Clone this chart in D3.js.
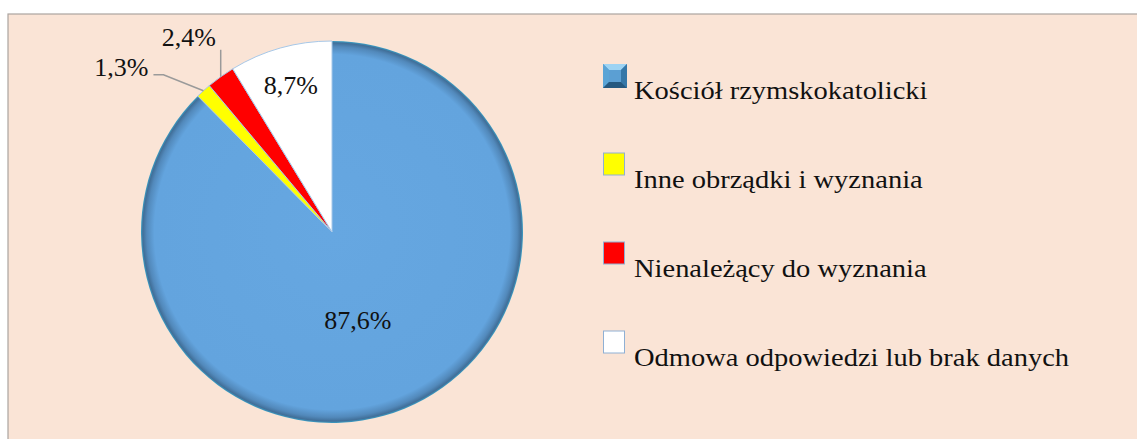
<!DOCTYPE html>
<html>
<head>
<meta charset="utf-8">
<script src="https://cdn.jsdelivr.net/npm/d3@7"></script>
<style>
  body { margin: 0; background: #fff; }
  svg { display: block; }
  text { font-family: "Liberation Serif", "Times New Roman", serif; fill: #111; }
</style>
</head>
<body>
<div id="chart"></div>
<script>
'use strict';

var categories = ["Kościół rzymskokatolicki", "Inne obrządki i wyznania", "Nienależący do wyznania", "Odmowa odpowiedzi lub brak danych"];
var values = [87.6, 1.3, 2.4, 8.7];
var valueLabels = ["87,6%", "1,3%", "2,4%", "8,7%"];
var colors = ["#64a6e0", "#ffff00", "#ff0000", "#ffffff"];

var width = 1137, height = 439;
var cx = 332, cy = 232, radius = 191;

var svg = d3.select("#chart").append("svg")
    .attr("width", width)
    .attr("height", height);

var defs = svg.append("defs");

// panel
svg.append("rect")
    .attr("x", 8).attr("y", 14)
    .attr("width", width + 10).attr("height", height + 10)
    .style("fill", "#fae4d6")
    .style("stroke", "#aba49f")
    .style("stroke-width", 1.2);

// bevel on the blue slice rim
var rim = defs.append("radialGradient")
    .attr("id", "rim")
    .attr("gradientUnits", "userSpaceOnUse")
    .attr("cx", 0).attr("cy", 0).attr("r", radius);
rim.append("stop").attr("offset", "0%").attr("stop-color", "#66a7e1");
rim.append("stop").attr("offset", "93%").attr("stop-color", "#63a4de");
rim.append("stop").attr("offset", "97%").attr("stop-color", "#5289bb");
rim.append("stop").attr("offset", "99%").attr("stop-color", "#416f99");
rim.append("stop").attr("offset", "100%").attr("stop-color", "#3a9fc6");

var pie = d3.pie().sort(null).value(function (d) { return d; });
var arcs = pie(values);
var arc = d3.arc().innerRadius(0).outerRadius(radius);

var g = svg.append("g").attr("transform", "translate(" + cx + "," + cy + ")");

g.selectAll("path")
    .data(arcs)
    .enter()
    .append("path")
    .attr("d", arc)
    .style("fill", function (d, i) { return i == 0 ? "url(#rim)" : colors[i]; })
    .style("stroke", function (d, i) { return i == 0 ? "none" : "#a7c8e8"; })
    .style("stroke-width", 1);

// inside labels: big slice and white slice
var inside = [
    {i: 0, r: 0.48, shift: 6},
    {i: 3, r: 0.80, shift: 0}
];
var toRad = Math.PI / 180;
inside.forEach(function (p) {
    var a = arcs[p.i];
    var ang = (a.startAngle + a.endAngle) / 2 + p.shift * toRad;
    var x = Math.sin(ang) * radius * p.r;
    var y = -Math.cos(ang) * radius * p.r;
    g.append("text")
        .attr("x", x).attr("y", y + 9)
        .style("font-size", "26px")
        .style("text-anchor", "middle")
        .text(valueLabels[p.i]);
});

// outside labels with leader lines
var edgePoint = function (a) {
    var ang = (a.startAngle + a.endAngle) / 2;
    return [Math.sin(ang) * radius, -Math.cos(ang) * radius];
};

var p1 = edgePoint(arcs[1]);
g.append("polyline")
    .attr("points", [p1, [p1[0] - 40, p1[1] - 16], [p1[0] - 50, p1[1] - 16]].join(" "))
    .style("fill", "none")
    .style("stroke", "#9a9a9a")
    .style("stroke-width", 1.5);
g.append("text")
    .attr("x", p1[0] - 55).attr("y", p1[1] - 16 + 1)
    .style("font-size", "26px")
    .style("text-anchor", "end")
    .text(valueLabels[1]);

var p2 = edgePoint(arcs[2]);
g.append("line")
    .attr("x1", p2[0]).attr("y1", p2[1])
    .attr("x2", p2[0]).attr("y2", p2[1] - 27)
    .style("stroke", "#9a9a9a")
    .style("stroke-width", 1.5);
g.append("text")
    .attr("x", p2[0] - 32).attr("y", p2[1] - 31)
    .style("font-size", "26px")
    .style("text-anchor", "middle")
    .text(valueLabels[2]);

// legend
var legendY = d3.scaleLinear().domain([0, 3]).range([99, 366]);
var legend = svg.selectAll("g.legend")
    .data(categories)
    .enter()
    .append("g")
    .attr("class", "legend")
    .attr("transform", function (d, i) { return "translate(603," + legendY(i) + ")"; });

legend.each(function (d, i) {
    var el = d3.select(this);
    if (i == 0) {
        var s = 24, t = -35, k = 6;
        el.append("rect").attr("x", 0).attr("y", t).attr("width", s).attr("height", s)
            .style("fill", "#4a8fc6");
        el.append("polygon").attr("points", [[0, t], [s, t], [s - k, t + k], [k, t + k]].join(" ")).style("fill", "#9dd3f3");
        el.append("polygon").attr("points", [[0, t], [k, t + k], [k, t + s - k], [0, t + s]].join(" ")).style("fill", "#5aa4d6");
        el.append("polygon").attr("points", [[s, t], [s, t + s], [s - k, t + s - k], [s - k, t + k]].join(" ")).style("fill", "#3577a8");
        el.append("polygon").attr("points", [[0, t + s], [k, t + s - k], [s - k, t + s - k], [s, t + s]].join(" ")).style("fill", "#25587f");
        el.append("rect").attr("x", k).attr("y", t + k).attr("width", s - 2 * k).attr("height", s - 2 * k).style("fill", "#5b9fd3");
    } else {
        el.append("rect").attr("x", 0.5).attr("y", -35).attr("width", 21).attr("height", 22)
            .style("fill", colors[i])
            .style("stroke", "#8fb0d4")
            .style("stroke-width", 1);
    }
    // legend text in the source is drawn slightly wider than the font
    el.append("text")
        .attr("transform", "translate(31,0) scale(1.096,1)")
        .style("font-size", "26px")
        .text(d);
});
</script>
</body>
</html>
